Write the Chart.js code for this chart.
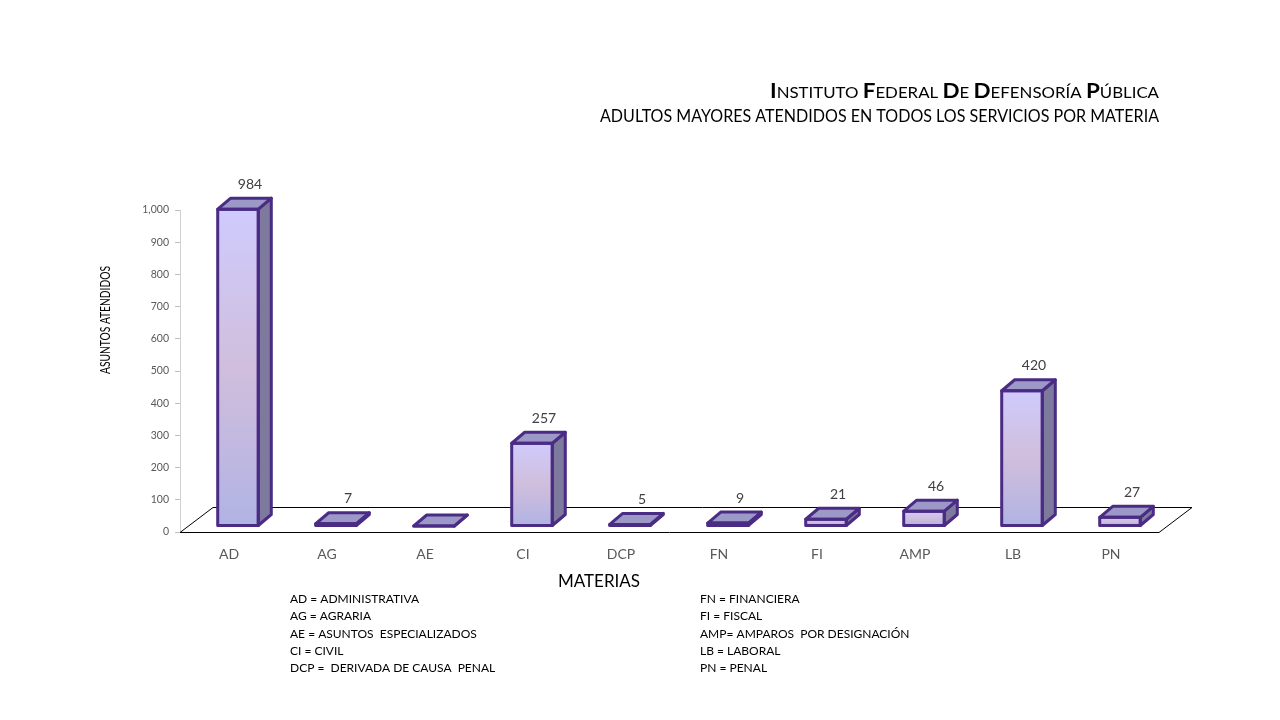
<!DOCTYPE html>
<html>
<head>
<meta charset="utf-8">
<style>
html,body{margin:0;padding:0;background:#fff;}
#wrap{width:1280px;height:720px;position:relative;}
</style>
<script src="https://cdn.jsdelivr.net/npm/chart.js@4.4.1/dist/chart.umd.min.js"></script>
</head>
<body>
<div id="wrap"><canvas id="c" width="1280" height="720"></canvas></div>
<script>
const categories = ['AD','AG','AE','CI','DCP','FN','FI','AMP','LB','PN'];
const values = [984, 7, 0, 257, 5, 9, 21, 46, 420, 27];
const yTicks = [0,100,200,300,400,500,600,700,800,900,1000];
const titleLine1 = 'INSTITUTO FEDERAL DE DEFENSORÍA PÚBLICA';
const titleLine2 = 'ADULTOS MAYORES ATENDIDOS EN TODOS LOS SERVICIOS POR MATERIA';
const yTitle = 'ASUNTOS ATENDIDOS';
const xTitle = 'MATERIAS';
const legendLeft = ['AD = ADMINISTRATIVA','AG = AGRARIA','AE = ASUNTOS  ESPECIALIZADOS','CI = CIVIL','DCP =  DERIVADA DE CAUSA  PENAL'];
const legendRight = ['FN = FINANCIERA','FI = FISCAL','AMP= AMPAROS  POR DESIGNACIÓN','LB = LABORAL','PN = PENAL'];

const FONT = 'Lato, "Open Sans", sans-serif';

const bar3d = {
  id: 'bar3d',
  beforeDatasetsDraw(chart) {
    const ctx = chart.ctx, a = chart.chartArea;
    ctx.save();
    ctx.strokeStyle = '#000';
    ctx.lineWidth = 1;
    ctx.beginPath();
    ctx.moveTo(a.left, a.bottom + 0.5);
    ctx.lineTo(a.right - 1, a.bottom + 0.5);
    ctx.lineTo(a.right + 32, a.bottom - 24.5);
    ctx.lineTo(a.left + 33, a.bottom - 24.5);
    ctx.closePath();
    ctx.stroke();
    ctx.restore();
  },
  afterDatasetsDraw(chart) {
    const ctx = chart.ctx;
    const meta = chart.getDatasetMeta(0);
    const sx = 9, sy = -6, dx = 13, dy = -11;
    ctx.save();
    ctx.lineJoin = 'round';
    meta.data.forEach((el, i) => {
      const p = el.getProps(['x','y','base','width'], true);
      const x0 = p.x - p.width/2 + sx, x1 = x0 + p.width;
      const top = p.y + sy, bot = p.base + sy;
      ctx.lineWidth = 3;
      ctx.strokeStyle = '#4B2C84';
      const g = ctx.createLinearGradient(0, top, 0, bot);
      g.addColorStop(0, '#CFCBFD');
      g.addColorStop(0.5, '#D0BEDC');
      g.addColorStop(1, '#B1B3E4');
      ctx.fillStyle = g;
      ctx.beginPath();
      ctx.rect(x0, top, x1 - x0, Math.max(bot - top, 0.01));
      ctx.fill();
      ctx.beginPath();
      ctx.moveTo(x1, top); ctx.lineTo(x1 + dx, top + dy); ctx.lineTo(x1 + dx, bot + dy); ctx.lineTo(x1, bot); ctx.closePath();
      ctx.fillStyle = '#7E7A9E';
      ctx.fill();
      ctx.stroke();
      ctx.beginPath();
      ctx.moveTo(x0, top); ctx.lineTo(x0 + dx, top + dy); ctx.lineTo(x1 + dx, top + dy); ctx.lineTo(x1, top); ctx.closePath();
      ctx.fillStyle = '#9C98C8';
      ctx.fill();
      ctx.stroke();
      ctx.beginPath();
      ctx.rect(x0, top, x1 - x0, bot - top);
      ctx.stroke();
      const v = values[i];
      if (v) {
        ctx.fillStyle = '#404040';
        ctx.font = '14px ' + FONT;
        ctx.textAlign = 'center';
        ctx.textBaseline = 'middle';
        ctx.fillText(String(v), (x0 + x1)/2 + 12, top - 25);
      }
    });
    ctx.restore();
  },
  afterDraw(chart) {
    const ctx = chart.ctx;
    ctx.save();
    ctx.fillStyle = '#000';
    const big = 'bold 20px ' + FONT, small = '15px ' + FONT;
    const parts = [];
    titleLine1.split(' ').forEach((w, wi) => {
      if (wi > 0) parts.push({t:' ', f:small});
      parts.push({t:w[0], f:big});
      parts.push({t:w.slice(1), f:small});
    });
    let total = 0;
    parts.forEach(pt => { ctx.font = pt.f; pt.w = ctx.measureText(pt.t).width; total += pt.w; });
    const targetW = 389;
    const scale = targetW / total;
    ctx.save();
    ctx.translate(1159 - targetW, 98);
    ctx.scale(scale, 1);
    let cx = 0;
    ctx.textBaseline = 'alphabetic';
    ctx.textAlign = 'left';
    parts.forEach(pt => { ctx.font = pt.f; ctx.fillText(pt.t, cx, 0); cx += pt.w; });
    ctx.restore();
    ctx.font = '17px ' + FONT;
    ctx.textAlign = 'right';
    ctx.textBaseline = 'alphabetic';
    ctx.fillText(titleLine2, 1159, 122, 559);
    ctx.save();
    ctx.translate(106, 320);
    ctx.rotate(-Math.PI/2);
    ctx.font = '13px ' + FONT;
    ctx.textAlign = 'center';
    ctx.textBaseline = 'middle';
    ctx.fillText(yTitle, 0, 0, 108);
    ctx.restore();
    ctx.font = '17px ' + FONT;
    ctx.textAlign = 'center';
    ctx.textBaseline = 'middle';
    ctx.fillText(xTitle, 599, 582);
    ctx.font = '12px ' + FONT;
    ctx.textAlign = 'left';
    ctx.textBaseline = 'middle';
    legendLeft.forEach((t, i) => ctx.fillText(t, 290, 599 + i * 17.4));
    legendRight.forEach((t, i) => ctx.fillText(t, 700, 599 + i * 17.4));
    ctx.restore();
  }
};

new Chart(document.getElementById('c'), {
  type: 'bar',
  data: {
    labels: categories,
    datasets: [{
      data: values,
      backgroundColor: 'rgba(0,0,0,0)',
      borderWidth: 0,
      barPercentage: 0.9,
      categoryPercentage: 0.46
    }]
  },
  options: {
    responsive: false,
    animation: false,
    devicePixelRatio: 1,
    layout: { padding: { left: 135, top: 210, right: 120, bottom: 0 } },
    plugins: { legend: { display: false }, tooltip: { enabled: false } },
    scales: {
      x: {
        grid: { display: false },
        border: { display: false },
        ticks: { color: '#595959', font: { family: FONT, size: 14 }, padding: 6, maxRotation: 0 },
        afterFit(s) { s.height = 188; }
      },
      y: {
        min: 0, max: 1000,
        afterBuildTicks(s) { s.ticks = yTicks.map(v => ({ value: v })); },
        grid: { drawOnChartArea: false, drawTicks: true, tickLength: 5, color: '#BFBFBF' },
        border: { display: true, color: '#D0D0D0' },
        ticks: {
          color: '#595959', font: { family: FONT, size: 10.5 }, padding: 6,
          callback: v => v.toLocaleString('en-US')
        },
        afterFit(s) { s.width = 45; }
      }
    }
  },
  plugins: [bar3d]
});
</script>
</body>
</html>
